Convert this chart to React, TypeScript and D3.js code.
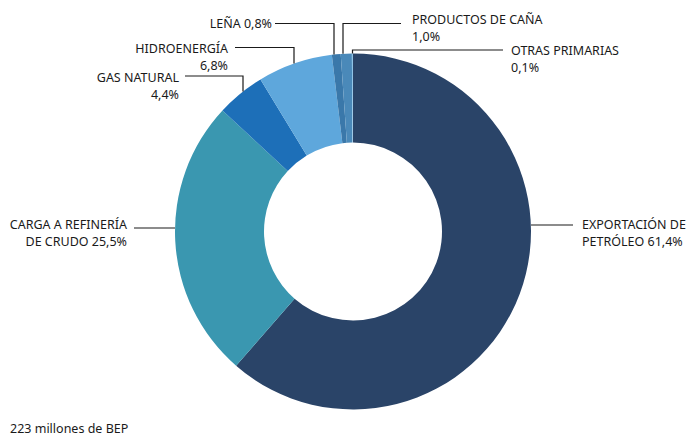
import React from "react";
import * as d3 from "d3";

const categories = [
  "EXPORTACIÓN DE PETRÓLEO",
  "CARGA A REFINERÍA DE CRUDO",
  "GAS NATURAL",
  "HIDROENERGÍA",
  "LEÑA",
  "PRODUCTOS DE CAÑA",
  "OTRAS PRIMARIAS",
];
const values = [61.4, 25.5, 4.4, 6.8, 0.8, 1.0, 0.1];
const valueLabels = ["61,4%", "25,5%", "4,4%", "6,8%", "0,8%", "1,0%", "0,1%"];
const colors = ["#2a4468", "#3a97b0", "#1d6fb8", "#5ea7dc", "#3a78aa", "#4a89b9", "#8fc3e6"];
const footnote = "223 millones de BEP";

const W = 687;
const H = 437;
const cx = 353;
const cy = 231.5;
const R = 178;
const r0 = 89;

type Lbl = {
  lines: string[];
  anchor: "start" | "end";
  tx: number;
  ty: number;
  path: "h" | "hv";
  lx0: number;
  lx1: number;
  ly: number;
};

const labelLayout: Lbl[] = [
  { lines: ["EXPORTACIÓN DE", "PETRÓLEO " + valueLabels[0]], anchor: "start", tx: 582, ty: 228.5, path: "h", lx0: 573, lx1: cx + R, ly: 225 },
  { lines: ["CARGA A REFINERÍA", "DE CRUDO " + valueLabels[1]], anchor: "end", tx: 127, ty: 228.5, path: "h", lx0: 134, lx1: cx - R, ly: 228 },
  { lines: ["GAS NATURAL", valueLabels[2]], anchor: "end", tx: 179, ty: 81.5, path: "hv", lx0: 185, lx1: 243, ly: 76 },
  { lines: ["HIDROENERGÍA", valueLabels[3]], anchor: "end", tx: 228, ty: 52.5, path: "hv", lx0: 235, lx1: 294, ly: 47.5 },
  { lines: ["LEÑA " + valueLabels[4]], anchor: "end", tx: 272, ty: 28, path: "hv", lx0: 275, lx1: 334, ly: 23.5 },
  { lines: ["PRODUCTOS DE CAÑA", valueLabels[5]], anchor: "start", tx: 412, ty: 24, path: "hv", lx0: 401, lx1: 343, ly: 23.5 },
  { lines: ["OTRAS PRIMARIAS", valueLabels[6]], anchor: "start", tx: 511, ty: 55, path: "hv", lx0: 503, lx1: 352.5, ly: 50 },
];

export default function App() {
  const pie = d3
    .pie<number>()
    .sort(null)
    .value((d) => d)
    .startAngle(0)
    .endAngle(2 * Math.PI);
  const arcs = pie(values);
  const arc = d3.arc<d3.PieArcDatum<number>>().innerRadius(r0).outerRadius(R);

  const edgeY = (x: number) => cy - Math.sqrt(R * R - (x - cx) * (x - cx));

  return (
    <svg
      width={W}
      height={H}
      style={{ position: "absolute", left: 0, top: 0, background: "#fff" }}
      fontFamily="'Noto Sans', sans-serif"
      fontSize={12.5}
    >
      <g transform={`translate(${cx},${cy})`}>
        {arcs.map((a, i) => (
          <path key={categories[i]} d={arc(a) || ""} fill={colors[i]} />
        ))}
      </g>
      {labelLayout.map((l, i) => {
        const d =
          l.path === "h"
            ? `M${l.lx0},${l.ly}H${l.lx1}`
            : `M${l.lx0},${l.ly}H${l.lx1}V${edgeY(l.lx1)}`;
        return (
          <g key={"l" + i}>
            <path d={d} fill="none" stroke="#1a1a1a" strokeWidth={1.2} />
            <text textAnchor={l.anchor} fill="#1a1a1a">
              {l.lines.map((s, j) => (
                <tspan key={j} x={l.tx} y={l.ty + j * 17}>
                  {s}
                </tspan>
              ))}
            </text>
          </g>
        );
      })}
      <text x={10} y={433} fill="#1a1a1a">
        {footnote}
      </text>
    </svg>
  );
}
